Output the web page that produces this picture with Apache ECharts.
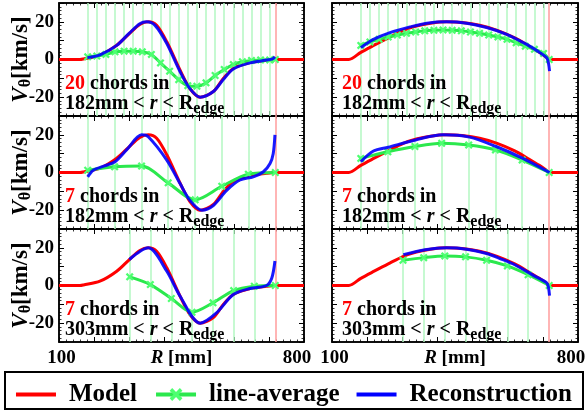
<!DOCTYPE html>
<html>
<head>
<meta charset="utf-8">
<script src="https://cdn.jsdelivr.net/npm/echarts@6/dist/echarts.min.js"></script>
<style>
html, body { margin: 0; padding: 0; background: #fff; }
#main { width: 588px; height: 415px; }
</style>
</head>
<body>
<div id="main"></div>
<script>
// R 范围与边界
var rEdge = 718;

// chord positions (mm)
var chords20 = [182, 208, 234, 260, 286, 312, 338, 364, 390, 416, 442, 468, 494, 520, 546, 572, 598, 624, 650, 676, 702];
var chords7a = [182, 259, 336, 412, 489, 565, 641];
var chords7b = [302, 361, 421, 480, 540, 599, 658];

// model profiles [R, V]
var modelLeft = [[100, 0], [160, 0], [170, 0.3], [217, 2.3], [265, 7.6], [301, 13.8], [331, 18.6], [355, 20], [379, 18.2], [408, 9.4],
  [446, -5.7], [474, -15.4], [503, -20], [541, -17], [570, -10], [598, -4.8], [646, -1.6], [693, -0.4], [718, 0], [800, 0]];
var modelRight = [[100, 0], [148, 0], [182, 3.8], [220, 7.6], [260, 11.5], [303, 15.5], [340, 17.8], [380, 19.3], [426, 20], [470, 19.6],
  [520, 18.2], [570, 15.5], [620, 11.5], [660, 7.2], [690, 3.8], [710, 1.2], [718, 0], [800, 0]];

// line-average values at each chord, last one at R_edge
var avgTL = [1.4, 1.8, 2.7, 4.1, 4.4, 4.4, 4.1, 2.7, -1.8, -6.2, -10.7, -13.9, -14.2, -12.4, -8.5, -5.3, -2.7, -1.2, -0.5, -0.2, -0.2, 0];
var avgML = [1.2, 3, 3.4, -5.5, -14.5, -7.3, -0.9, 0];
var avgBL = [4.6, 0.5, -6.9, -14.2, -9.2, -2.7, -0.4, 0];
var avgTR = [7.5, 9.3, 10.7, 12, 13, 13.9, 14.6, 15.2, 15.5, 15.7, 15.5, 15.2, 14.6, 13.9, 13, 12, 10.7, 8.9, 7.1, 5.4, 3.2, 0];
var avgMR = [7.5, 11, 13.8, 15.5, 14.6, 12, 6.6, 0];
var avgBR = [13.4, 14.8, 15.7, 15.2, 13.4, 10.4, 5.7, 0];

// reconstruction [R, V]
var reconTL = [[181, 1], [217, 2.5], [265, 7.5], [301, 14], [331, 19], [350, 20], [375, 18], [408, 8.5], [446, -6.5], [474, -15.5],
  [503, -20], [541, -17], [570, -10.5], [598, -5], [646, -1.8], [693, -0.3], [710, 0.3], [717, 1.5]];
var reconML = [[182, -2.3], [198, 1.2], [230, 3.5], [260, 5.7], [293, 12], [336, 20], [355, 19], [408, 6.6], [446, -5.9], [474, -14.8],
  [508, -20], [541, -17.5], [579, -9.5], [617, -4], [655, -2.3], [684, 0.4], [703, 4.8], [712, 10], [717, 20]];
var reconBL = [[301, 13.8], [355, 20], [408, 7.6], [446, -5.7], [503, -20], [550, -14.5], [598, -4.8], [646, -1.6], [693, 0], [708, 4], [717, 13]];
var reconTR = [[182, 6.3], [218, 10.7], [265, 14.3], [322, 17.3], [370, 19.3], [426, 20], [483, 19.3], [540, 17], [597, 13.4], [654, 8],
  [692, 3.6], [711, 0.9], [716, -2], [719, -6.2]];
var reconMR = [[182, 5.7], [218, 11.4], [260, 13.4], [338, 17.3], [415, 20], [491, 18.8], [567, 13.8], [643, 7.5], [719, 0]];
var reconBR = [[303, 16.4], [365, 19], [426, 20], [483, 19.3], [540, 17], [578, 14.3], [620, 11], [673, 5.4], [711, 1.4], [716, -1], [719, -5.4]];

var nChords = ['20', '7', '7'];
var rMin = ['182', '182', '303'];

var panels = [
  { model: modelLeft, chords: chords20, avg: avgTL, recon: reconTL },
  { model: modelRight, chords: chords20, avg: avgTR, recon: reconTR },
  { model: modelLeft, chords: chords7a, avg: avgML, recon: reconML },
  { model: modelRight, chords: chords7a, avg: avgMR, recon: reconMR },
  { model: modelLeft, chords: chords7b, avg: avgBL, recon: reconBL },
  { model: modelRight, chords: chords7b, avg: avgBR, recon: reconBR }
];

var FONT = 'Liberation Serif';
var gridLeft = [59, 332], gridWidth = [245, 246], gridTop = [3, 116, 229], gridH = 113;
var xMark = 'path://M0,2L2,0L5,3L8,0L10,2L7,5L10,8L8,10L5,7L2,10L0,8L3,5Z';
var barIcon = 'path://M0,0H40V4H0Z';
var NB = '\u00a0';

var myChart = echarts.init(document.getElementById('main'));

var grids = [], xAxes = [], yAxes = [], series = [], graphics = [];

panels.forEach(function (p, i) {
  var row = Math.floor(i / 2), col = i % 2;
  grids.push({
    left: gridLeft[col], top: gridTop[row], width: gridWidth[col], height: gridH,
    outerBoundsMode: 'none', containLabel: false,
    show: true, borderColor: '#000', borderWidth: 1.5, backgroundColor: 'transparent'
  });
  var tick = { show: true, inside: true, length: 5, lineStyle: { color: '#000', width: 1 } };
  var minor = { show: true, splitNumber: 5, length: 2.5, lineStyle: { color: '#000', width: 0.8 } };
  var axLine = { show: true, onZero: false, lineStyle: { color: '#000', width: 1.5 } };
  var bottom = row === 2;
  xAxes.push({
    gridIndex: i, type: 'value', min: 100, max: 800, interval: 100, position: 'bottom',
    axisLine: axLine, axisTick: tick, minorTick: minor, splitLine: { show: false },
    axisLabel: {
      show: bottom, margin: 7, alignMinLabel: 'center', alignMaxLabel: 'center',
      fontFamily: FONT, fontWeight: 'bold', fontSize: 19, color: '#000',
      formatter: function (v) { return v === 100 ? NB + '100' : (v === 800 ? '800' + NB + NB + NB : ''); }
    },
    name: bottom ? '{i|R}{n| [mm]}' : '', nameLocation: 'middle', nameGap: 7, nameMoveOverlap: false,
    nameTextStyle: {
      verticalAlign: 'top',
      rich: {
        i: { fontFamily: FONT, fontWeight: 'bold', fontStyle: 'italic', fontSize: 19, color: '#000' },
        n: { fontFamily: FONT, fontWeight: 'bold', fontSize: 19, color: '#000' }
      }
    }
  });
  xAxes.push({
    gridIndex: i, type: 'value', min: 100, max: 800, interval: 100, position: 'top',
    axisLine: axLine, axisTick: tick, minorTick: minor, splitLine: { show: false }, axisLabel: { show: false }
  });
  yAxes.push({
    gridIndex: i, type: 'value', min: -30, max: 30, interval: 10, position: 'left',
    axisLine: axLine, axisTick: tick, minorTick: minor, splitLine: { show: false },
    axisLabel: {
      show: col === 0, margin: 5, fontFamily: FONT, fontWeight: 'bold', fontSize: 19, color: '#000',
      formatter: function (v) { return v % 20 === 0 ? String(v) : ''; }
    },
    name: col === 0 ? '{i|V}{s|θ}{n|[km/s]}' : '', nameLocation: 'middle', nameGap: 29, nameMoveOverlap: false,
    nameTextStyle: {
      rich: {
        i: { fontFamily: FONT, fontWeight: 'bold', fontStyle: 'italic', fontSize: 23, color: '#000', lineHeight: 17 },
        s: { fontFamily: FONT, fontWeight: 'bold', fontSize: 16, color: '#000', lineHeight: 10, padding: [9, 0, 0, 0] },
        n: { fontFamily: FONT, fontWeight: 'bold', fontSize: 23, color: '#000', lineHeight: 17 }
      }
    }
  });
  yAxes.push({
    gridIndex: i, type: 'value', min: -30, max: 30, interval: 10, position: 'right',
    axisLine: axLine, axisTick: tick, minorTick: minor, splitLine: { show: false }, axisLabel: { show: false }
  });

  var xi = 2 * i, yi = 2 * i;
  // chord lines and R_edge, kept under the curves
  series.push({
    type: 'line', xAxisIndex: xi, yAxisIndex: yi, data: [], z: 1, silent: true,
    markLine: {
      z: 1, silent: true, symbol: 'none', label: { show: false }, animation: false,
      lineStyle: { color: '#b3f7c2', width: 1.5, type: 'solid' },
      data: p.chords.map(function (c) { return { xAxis: c }; })
        .concat([{ xAxis: rEdge, lineStyle: { color: '#ff9c9c', width: 1.5, type: 'solid' } }])
    }
  });
  series.push({
    name: 'Model', type: 'line', xAxisIndex: xi, yAxisIndex: yi, data: p.model, symbol: 'none', smooth: 0.3, z: 2,
    itemStyle: { color: '#ff0000' }, lineStyle: { color: '#ff0000', width: 3 }
  });
  var avgX = p.chords.concat([rEdge]);
  series.push({
    name: 'line-average', type: 'line', xAxisIndex: xi, yAxisIndex: yi, z: 3,
    data: avgX.map(function (r, k) { return [r, p.avg[k]]; }),
    smooth: 0.3, symbol: xMark, symbolSize: 8, showAllSymbol: true,
    itemStyle: { color: '#4dff70' }, lineStyle: { color: '#2be84d', width: 3 }
  });
  series.push({
    name: 'Reconstruction', type: 'line', xAxisIndex: xi, yAxisIndex: yi, data: p.recon, symbol: 'none', smooth: 0.3, z: 4,
    itemStyle: { color: '#0000ff' }, lineStyle: { color: '#0000ff', width: 3, opacity: 0.9 }
  });

  graphics.push({
    type: 'text', left: gridLeft[col] + (col === 0 ? 6 : 10), top: gridTop[row] + 71, z: 100,
    style: {
      text: '{r|' + nChords[row] + '}{b| chords in}\n{b|' + rMin[row] + 'mm < }{i|r}{b| < R}{s|edge}',
      rich: {
        r: { fontFamily: FONT, fontWeight: 'bold', fontSize: 20, fill: '#ff0000', lineHeight: 20 },
        b: { fontFamily: FONT, fontWeight: 'bold', fontSize: 20, fill: '#000', lineHeight: 20 },
        i: { fontFamily: FONT, fontWeight: 'bold', fontStyle: 'italic', fontSize: 20, fill: '#000', lineHeight: 20 },
        s: { fontFamily: FONT, fontWeight: 'bold', fontSize: 16, fill: '#000', lineHeight: 10, padding: [10, 0, 0, 0] }
      }
    }
  });
});

// legend frame
graphics.push({
  type: 'rect', z: 50, silent: true,
  shape: { x: 5, y: 372, width: 578, height: 37 },
  style: { fill: 'none', stroke: '#000', lineWidth: 2 }
});

option = {
  animation: false,
  backgroundColor: '#fff',
  grid: grids,
  xAxis: xAxes,
  yAxis: yAxes,
  legend: {
    data: [
      { name: 'Model', icon: barIcon },
      { name: 'line-average' },
      { name: 'Reconstruction', icon: barIcon }
    ],
    left: 'center', top: 377,
    itemWidth: 40, itemHeight: 16, itemGap: 17,
    lineStyle: { width: 4 },
    textStyle: { fontFamily: FONT, fontWeight: 'bold', fontSize: 25, color: '#000', padding: [0, 0, 0, 8] }
  },
  graphic: graphics,
  series: series
};

myChart.setOption(option, true);
window.addEventListener('resize', function () {
  myChart.resize();
});
</script>
</body>
</html>
